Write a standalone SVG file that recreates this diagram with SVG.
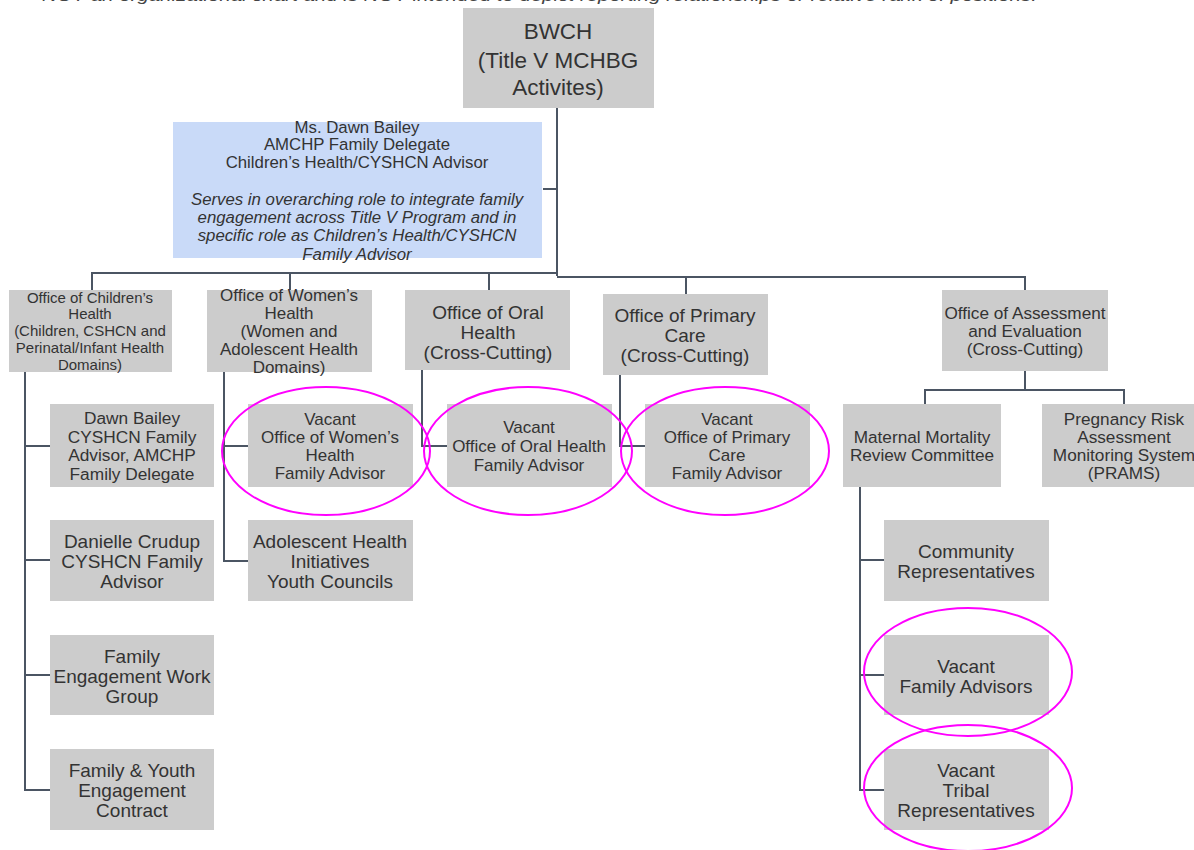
<svg xmlns="http://www.w3.org/2000/svg" width="1194" height="850" viewBox="0 0 1194 850">
<style>
.box{fill:#cccccc}
.blue{fill:#c9daf8}
text{font-family:"Liberation Sans",Arial,sans-serif;fill:#333;text-anchor:middle}
.it{font-style:italic}
.c{fill:none;stroke:#4b5563;stroke-width:2}
.v{fill:none;stroke:#ff00ff;stroke-width:2}
</style>
<rect width="1194" height="850" fill="#fff"/>
<text x="42" y="1" textLength="995" lengthAdjust="spacingAndGlyphs" class="it" style="text-anchor:start;font-size:16px;fill:#444">NOT an organizational chart and is NOT intended to depict reporting relationships or relative rank of positions.</text>
<g id="connectors">
<path class="c" d="M557 108V276M543 189H557M92 290V273H557M557 277H1025V290M290 273V290M489 273V290M686 277V294"/>
<path class="c" d="M25 372V790H50M25 446H50M25 560H50M25 675H50"/>
<path class="c" d="M224 372V561H248M224 446H248"/>
<path class="c" d="M422 370V446H447"/>
<path class="c" d="M620 375V446H645"/>
<path class="c" d="M1025 371V390M925 404V390H1124V404"/>
<path class="c" d="M860 487V790H884M860 560H884M860 675H884"/>
</g>
<g id="bwch"><rect class="box" x="463" y="8" width="191" height="100"/>
<text font-size="22.5"><tspan x="558" y="39">BWCH</tspan><tspan x="558" y="68">(Title V MCHBG</tspan><tspan x="558" y="95">Activites)</tspan></text></g>
<g id="dawn-bailey-delegate"><rect class="blue" x="173" y="122" width="369" height="136"/>
<text font-size="16.8"><tspan x="357" y="133">Ms. Dawn Bailey</tspan><tspan x="357" y="150">AMCHP Family Delegate</tspan><tspan x="357" y="168">Children’s Health/CYSHCN Advisor</tspan></text>
<text font-size="16.8" class="it"><tspan x="357" y="205">Serves in overarching role to integrate family</tspan><tspan x="357" y="223">engagement across Title V Program and in</tspan><tspan x="357" y="241">specific role as Children’s Health/CYSHCN</tspan><tspan x="357" y="260">Family Advisor</tspan></text></g>
<g id="childrens"><rect class="box" x="9" y="290" width="163" height="82"/>
<text font-size="15"><tspan x="90" y="303">Office of Children’s</tspan><tspan x="90" y="319">Health</tspan><tspan x="90" y="336">(Children, CSHCN and</tspan><tspan x="90" y="353">Perinatal/Infant Health</tspan><tspan x="90" y="370">Domains)</tspan></text></g>
<g id="womens"><rect class="box" x="207" y="290" width="165" height="82"/>
<text font-size="17"><tspan x="289" y="301">Office of Women’s</tspan><tspan x="289" y="319">Health</tspan><tspan x="289" y="337">(Women and</tspan><tspan x="289" y="355">Adolescent Health</tspan><tspan x="289" y="373">Domains)</tspan></text></g>
<g id="oral"><rect class="box" x="405" y="290" width="165" height="80"/>
<text font-size="19"><tspan x="488" y="319">Office of Oral</tspan><tspan x="488" y="339">Health</tspan><tspan x="488" y="359">(Cross-Cutting)</tspan></text></g>
<g id="primary"><rect class="box" x="603" y="294" width="165" height="81"/>
<text font-size="19"><tspan x="685" y="322">Office of Primary</tspan><tspan x="685" y="342">Care</tspan><tspan x="685" y="362">(Cross-Cutting)</tspan></text></g>
<g id="assessment"><rect class="box" x="942" y="290" width="166" height="81"/>
<text font-size="17.2"><tspan x="1025" y="319">Office of Assessment</tspan><tspan x="1025" y="337">and Evaluation</tspan><tspan x="1025" y="355">(Cross-Cutting)</tspan></text></g>
<g id="mmrc"><rect class="box" x="843" y="404" width="158" height="83"/>
<text font-size="17.2"><tspan x="922" y="443">Maternal Mortality</tspan><tspan x="922" y="461">Review Committee</tspan></text></g>
<g id="prams"><rect class="box" x="1042" y="404" width="152" height="83"/>
<text font-size="17.2"><tspan x="1124" y="425">Pregnancy Risk</tspan><tspan x="1124" y="443">Assessment</tspan><tspan x="1124" y="461">Monitoring System</tspan><tspan x="1124" y="479">(PRAMS)</tspan></text></g>
<g id="dawn-bailey"><rect class="box" x="50" y="404" width="164" height="83"/>
<text font-size="17.3"><tspan x="132" y="424">Dawn Bailey</tspan><tspan x="132" y="443">CYSHCN Family</tspan><tspan x="132" y="461">Advisor, AMCHP</tspan><tspan x="132" y="480">Family Delegate</tspan></text></g>
<g id="danielle"><rect class="box" x="50" y="520" width="164" height="81"/>
<text font-size="19"><tspan x="132" y="548">Danielle Crudup</tspan><tspan x="132" y="568">CYSHCN Family</tspan><tspan x="132" y="588">Advisor</tspan></text></g>
<g id="fewg"><rect class="box" x="50" y="635" width="164" height="80"/>
<text font-size="19"><tspan x="132" y="663">Family</tspan><tspan x="132" y="683">Engagement Work</tspan><tspan x="132" y="703">Group</tspan></text></g>
<g id="fyec"><rect class="box" x="50" y="749" width="164" height="81"/>
<text font-size="19"><tspan x="132" y="777">Family &amp; Youth</tspan><tspan x="132" y="797">Engagement</tspan><tspan x="132" y="817">Contract</tspan></text></g>
<g id="vacant-womens"><rect class="box" x="248" y="404" width="165" height="83"/>
<text font-size="17"><tspan x="330" y="425">Vacant</tspan><tspan x="330" y="443">Office of Women’s</tspan><tspan x="330" y="461">Health</tspan><tspan x="330" y="479">Family Advisor</tspan></text></g>
<g id="adolescent"><rect class="box" x="248" y="520" width="165" height="81"/>
<text font-size="19"><tspan x="330" y="548">Adolescent Health</tspan><tspan x="330" y="568">Initiatives</tspan><tspan x="330" y="588">Youth Councils</tspan></text></g>
<g id="vacant-oral"><rect class="box" x="447" y="404" width="165" height="83"/>
<text font-size="17"><tspan x="529" y="433">Vacant</tspan><tspan x="529" y="452">Office of Oral Health</tspan><tspan x="529" y="471">Family Advisor</tspan></text></g>
<g id="vacant-primary"><rect class="box" x="645" y="404" width="165" height="83"/>
<text font-size="17"><tspan x="727" y="425">Vacant</tspan><tspan x="727" y="443">Office of Primary</tspan><tspan x="727" y="461">Care</tspan><tspan x="727" y="479">Family Advisor</tspan></text></g>
<g id="community"><rect class="box" x="884" y="520" width="165" height="81"/>
<text font-size="19"><tspan x="966" y="558">Community</tspan><tspan x="966" y="578">Representatives</tspan></text></g>
<g id="vacant-fa"><rect class="box" x="884" y="635" width="165" height="80"/>
<text font-size="19"><tspan x="966" y="673">Vacant</tspan><tspan x="966" y="693">Family Advisors</tspan></text></g>
<g id="vacant-tribal"><rect class="box" x="884" y="749" width="165" height="81"/>
<text font-size="19"><tspan x="966" y="777">Vacant</tspan><tspan x="966" y="797">Tribal</tspan><tspan x="966" y="817">Representatives</tspan></text></g>
<g id="highlights">
<ellipse class="v" cx="326" cy="451" rx="104" ry="64"/>
<ellipse class="v" cx="528" cy="451" rx="104" ry="64"/>
<ellipse class="v" cx="725" cy="451" rx="104" ry="64"/>
<ellipse class="v" cx="968" cy="672" rx="104" ry="64"/>
<ellipse class="v" cx="968" cy="788" rx="104" ry="63"/>
</g>
</svg>
